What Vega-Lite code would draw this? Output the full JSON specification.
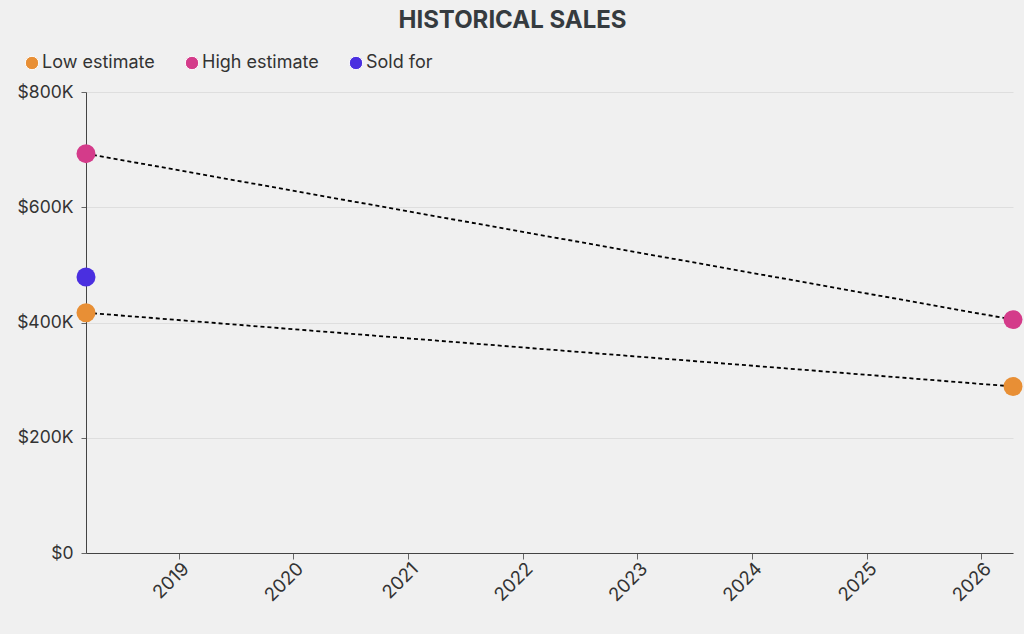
{
  "$schema": "https://vega.github.io/schema/vega-lite/v6.json",
  "autosize": "none",
  "width": 927,
  "height": 461,
  "padding": {"left": 86, "top": 92, "right": 11, "bottom": 81},
  "background": "#f0f0f0",
  "title": {
    "text": "HISTORICAL SALES",
    "anchor": "middle",
    "dx": -37,
    "offset": 21,
    "fontSize": 24,
    "fontWeight": "bold",
    "font": "Inter",
    "color": "#353b3f"
  },
  "config": {
    "font": "Inter",
    "view": {"stroke": null},
    "axis": {
      "labelFont": "Inter",
      "labelFontSize": 17.5,
      "labelColor": "#333333",
      "domainColor": "#444444",
      "tickColor": "#666666",
      "gridColor": "#dedede",
      "title": null
    }
  },
  "data": {
    "values": [
      {"date": "2018-03-11", "value": 693000, "series": "High estimate"},
      {"date": "2018-03-11", "value": 479000, "series": "Sold for"},
      {"date": "2018-03-11", "value": 417000, "series": "Low estimate"},
      {"date": "2026-04-12", "value": 405000, "series": "High estimate"},
      {"date": "2026-04-12", "value": 289000, "series": "Low estimate"}
    ]
  },
  "encoding": {
    "x": {
      "field": "date",
      "type": "temporal",
      "scale": {"nice": false},
      "axis": {
        "format": "%Y",
        "tickCount": {"interval": "year", "step": 1},
        "labelAngle": -45,
        "labelFontSize": 18.5,
        "grid": false,
        "tickSize": 6,
        "labelPadding": 0,
        "labelDx": -4,
        "labelDy": -2
      }
    },
    "y": {
      "field": "value",
      "type": "quantitative",
      "scale": {"domain": [0, 800000], "nice": false},
      "axis": {
        "values": [0, 200000, 400000, 600000, 800000],
        "labelExpr": "datum.value == 0 ? '$0' : '$' + datum.value / 1000 + 'K'",
        "grid": true,
        "tickSize": 5,
        "labelPadding": 8
      }
    }
  },
  "layer": [
    {
      "transform": [{"filter": "datum.series != 'Sold for'"}],
      "mark": {"type": "line", "color": "black", "strokeWidth": 1.8, "strokeDash": [4, 3]},
      "encoding": {"detail": {"field": "series"}}
    },
    {
      "mark": {"type": "point", "filled": true, "size": 360, "opacity": 1, "shape": "circle"},
      "encoding": {
        "color": {
          "field": "series",
          "type": "nominal",
          "scale": {
            "domain": ["Low estimate", "High estimate", "Sold for"],
            "range": ["#e88f35", "#d43b8a", "#4a2fe0"]
          },
          "legend": {
            "title": null,
            "orient": "none",
            "direction": "horizontal",
            "legendX": -63,
            "legendY": -38,
            "symbolType": "circle",
            "symbolSize": 180,
            "symbolStrokeColor": "white",
            "symbolStrokeWidth": 1,
            "symbolOpacity": 1,
            "labelFontSize": 18,
            "labelFont": "Inter",
            "labelColor": "#333333",
            "labelOffset": 1,
            "columnPadding": 28
          }
        }
      }
    }
  ]
}
